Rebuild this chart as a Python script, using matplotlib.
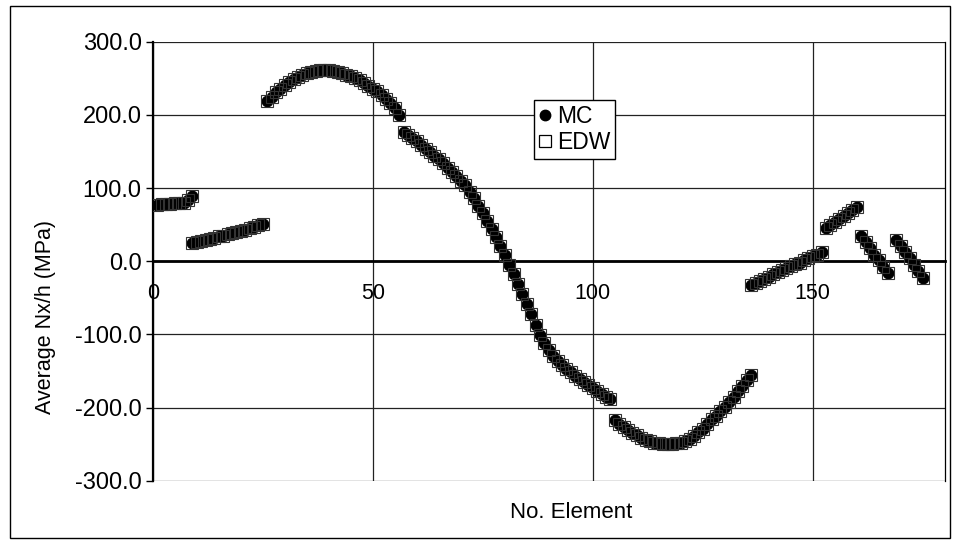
import matplotlib

matplotlib.use("Agg")
import matplotlib.pyplot as plt
import numpy as np
from matplotlib.lines import Line2D
from matplotlib.patches import Rectangle

plt.rcParams["font.family"] = ["Liberation Sans", "DejaVu Sans"]

# first and last element number of each run of points
segment_ranges = [
    (1, 9),
    (9, 25),
    (26, 56),
    (57, 104),
    (105, 136),
    (136, 152),
    (153, 160),
    (161, 167),
    (169, 175),
]

# average Nx/h (MPa), one list per run
mc_runs = [
    [77, 78, 78, 78, 79, 79, 80, 84, 89],
    [25, 26, 28, 29, 31, 32, 34, 35, 37, 38, 40, 41, 43, 45, 47, 49, 51],
    [219, 225, 231, 236, 241, 245, 249, 252, 255, 257, 259, 260, 261, 261, 261,
     260, 259, 257, 255, 253, 250, 247, 244, 240, 236, 232, 227, 222, 216, 209,
     200],
    [177, 173, 168, 164, 159, 154, 149, 144, 139, 134, 128, 122, 116, 110, 104,
     95, 86, 76, 66, 55, 44, 33, 21, 8, -5, -18, -31, -45, -59, -72, -87, -101,
     -112, -121, -129, -136, -142, -147, -152, -157, -161, -165, -169, -173,
     -177, -181, -185, -189],
    [-217, -222, -227, -231, -235, -238, -241, -244, -246, -248, -249, -250,
     -250, -250, -249, -248, -246, -243, -239, -234, -229, -223, -216, -211,
     -205, -199, -192, -185, -178, -171, -163, -155],
    [-33, -30, -27, -24, -21, -18, -15, -12, -9, -7, -4, -2, 1, 4, 7, 9, 12],
    [45, 50, 54, 58, 62, 66, 70, 74],
    [34, 26, 18, 9, 1, -8, -16],
    [29, 21, 12, 4, -5, -14, -23],
]
# EDW sits on top of MC everywhere on the chart
edw_runs = mc_runs

x_ticks = [0, 50, 100, 150]
y_ticks = [-300, -200, -100, 0, 100, 200, 300]

elements = np.concatenate([np.arange(a, b + 1) for a, b in segment_ranges])
mc = np.concatenate(mc_runs)
edw = np.concatenate(edw_runs)

fig = plt.figure(figsize=(9.6, 5.44), dpi=100)
ax = fig.add_axes([152.7 / 960, 1 - 480.7 / 544, 792 / 960, 439 / 544])

ax.plot(elements, mc, linestyle="none", marker="o", markersize=7.5,
        color="black", zorder=3)
ax.plot(elements, edw, linestyle="none", marker="s", markersize=8,
        markerfacecolor="none", markeredgecolor="#333333",
        markeredgewidth=0.8, zorder=4)

ax.set_xlim(0, 180)
ax.set_ylim(-300, 300)
ax.set_xticks(x_ticks)
ax.set_yticks(y_ticks)
ax.set_yticklabels([f"{v:.1f}" for v in y_ticks])

ax.grid(True, color="#222222", linewidth=0.9)
ax.set_axisbelow(True)

ax.spines["bottom"].set_position(("data", 0))
ax.spines["bottom"].set_linewidth(2)
ax.spines["left"].set_linewidth(1.6)
ax.spines["top"].set_visible(False)
ax.spines["right"].set_linewidth(0.9)

ax.tick_params(axis="x", length=0, pad=16, labelsize=15.5)
ax.tick_params(axis="y", length=5, width=1, pad=3, labelsize=17,
               direction="out")

ax.set_ylabel("Average Nx/h (MPa)", fontsize=15.5, va="center")
ax.yaxis.set_label_coords((46 - 152.7) / 792, (480.7 - 317) / 439)
ax.set_xlabel("No. Element", fontsize=16, va="center")
ax.xaxis.set_label_coords((571 - 152.7) / 792, (480.7 - 512) / 439)

handles = [
    Line2D([], [], linestyle="none", marker="o", markersize=7.5, color="black"),
    Line2D([], [], linestyle="none", marker="s", markersize=8.5,
           markerfacecolor="white", markeredgecolor="black",
           markeredgewidth=0.9),
]
fig.legend(handles, ["MC", "EDW"], loc="upper left",
           bbox_to_anchor=(534 / 960, 1 - 100 / 544),
           bbox_transform=fig.transFigure, fontsize=16.5, frameon=True,
           fancybox=False, edgecolor="black", framealpha=1,
           borderpad=0.2, labelspacing=0.15, handlelength=0.6,
           handletextpad=0.2, borderaxespad=0)

fig.add_artist(Rectangle((10 / 960, 1 - 538 / 544), 940 / 960, 532 / 544,
                         transform=fig.transFigure, fill=False,
                         edgecolor="black", linewidth=1))

fig.savefig("out.png", dpi=100)
